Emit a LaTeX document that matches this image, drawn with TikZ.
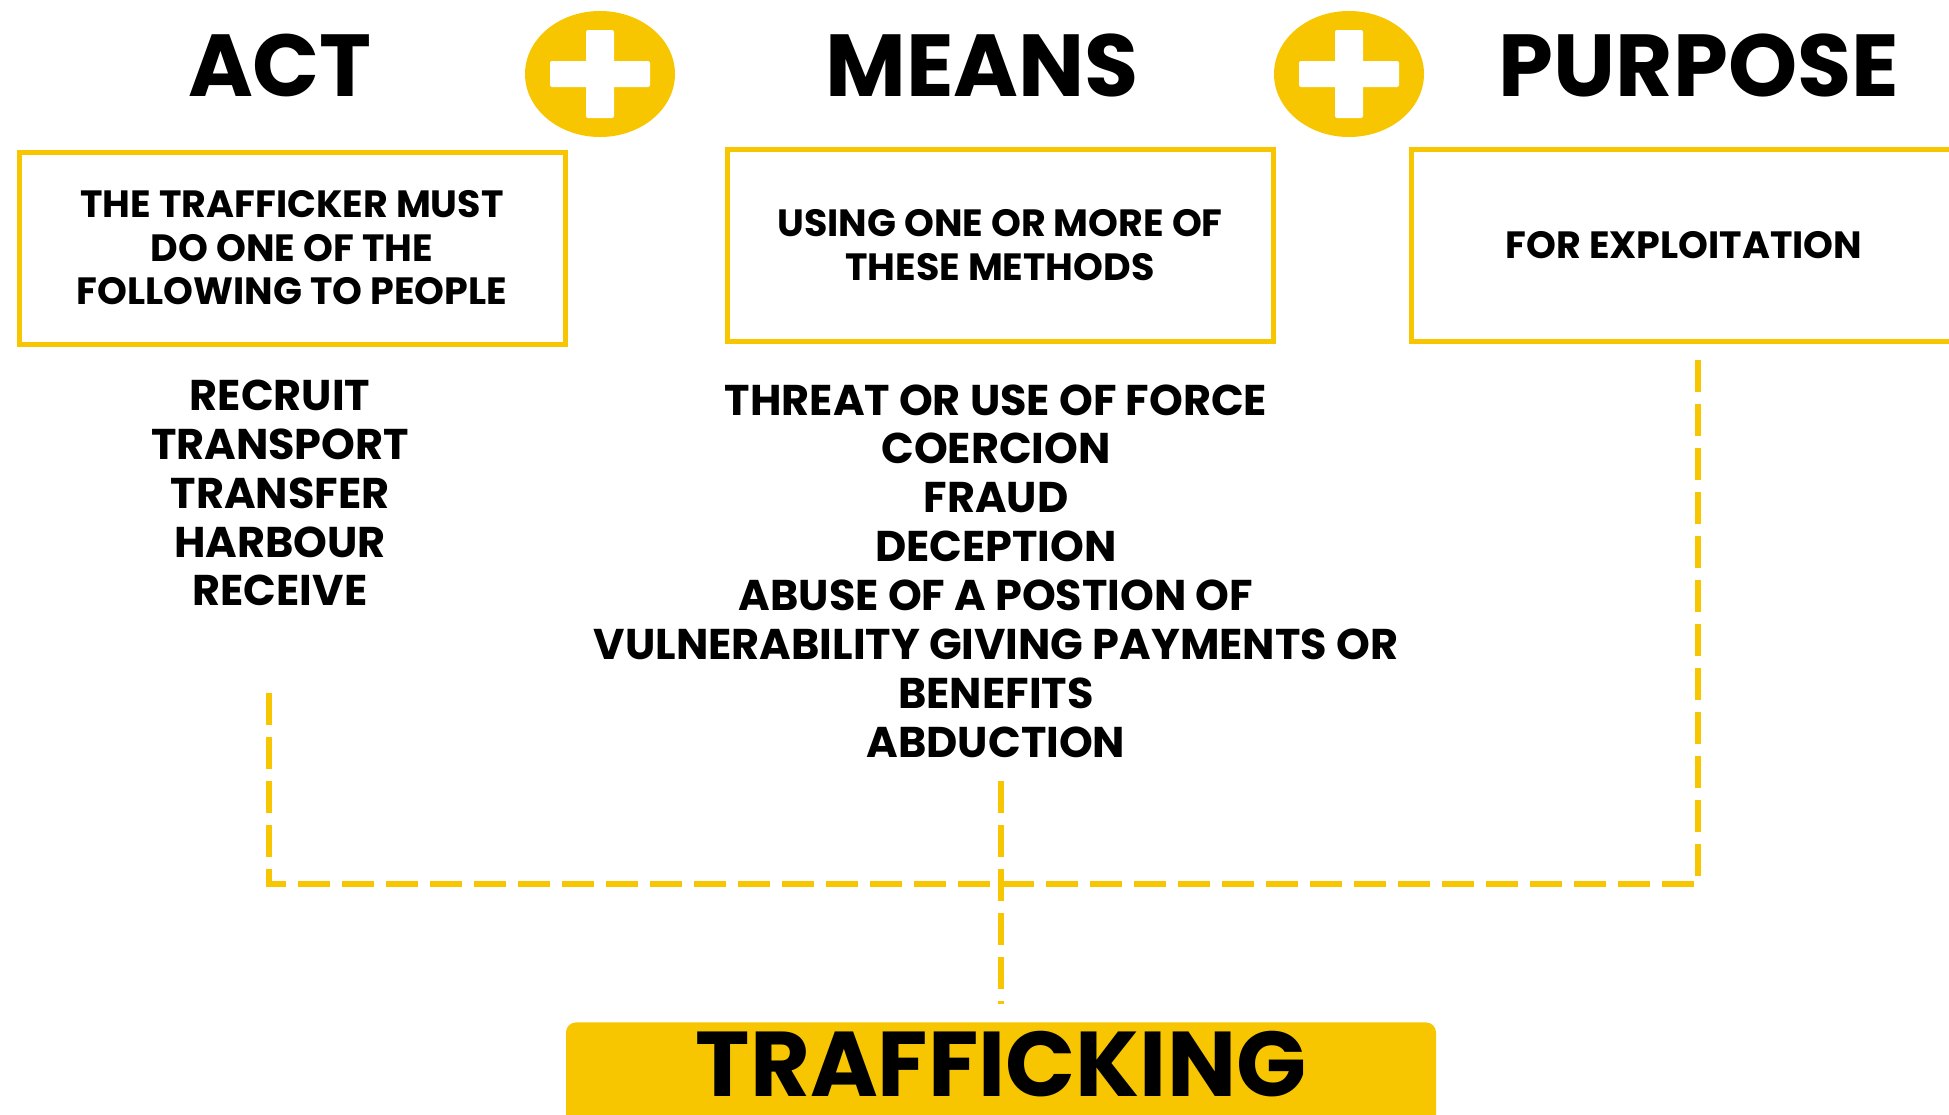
\documentclass[tikz,border=0pt]{standalone}
\usepackage{xcolor}
\usepackage{fontspec}
\setmainfont{Poppins}
\usepackage{tikz}
\definecolor{gold}{RGB}{247,198,0}

\begin{document}
\begin{tikzpicture}[x=0.5pt,y=-0.5pt,
    heading/.style={font=\fontsize{44}{44}\selectfont\bfseries, inner sep=0pt},
    infobox/.style={draw=gold, line width=2.5pt, minimum width=273pt, minimum height=96pt,
      align=center, inner sep=0pt, font=\fontsize{19}{21.75}\selectfont\bfseries},
    listing/.style={align=center, inner sep=0pt, font=\fontsize{21.5}{24.45}\selectfont\bfseries},
    trafbox/.style={fill=gold, anchor=north, rounded corners=5pt, minimum width=435pt,
      inner sep=0pt, text height=37pt, text depth=14pt, font=\fontsize{46}{46}\selectfont\bfseries},
    dashline/.style={draw=gold, line width=2.8pt, dash pattern=on 16pt off 6pt}]
    \useasboundingbox (0,0) rectangle (1949,1114);
    \clip (0,0) rectangle (1949,1114);
    % Headings
    \node[heading] (act) at (280,65) {ACT};
    \node[heading] (means) at (982,65) {MEANS};
    \node[heading] (purpose) at (1699,65) {PURPOSE};
    % Plus signs
    \foreach \cx in {600,1349} {
      \fill[gold] (\cx,74) ellipse [x radius=75, y radius=63];
      \fill[white, rounded corners=1pt] (\cx-50,61) rectangle (\cx+50,87);
      \fill[white, rounded corners=1pt] (\cx-14,30) rectangle (\cx+14,118);
    }
    % Boxes
    \node[infobox] (actbox) at (292,248) {THE TRAFFICKER MUST\\DO ONE OF THE\\FOLLOWING TO PEOPLE};
    \node[infobox] (meansbox) at (1000,245) {USING ONE OR MORE OF\\THESE METHODS};
    \node[infobox] (purposebox) at (1684,245) {FOR EXPLOITATION};
    % Lists
    \node[listing] (actlist) at (280,493) {RECRUIT\\TRANSPORT\\TRANSFER\\HARBOUR\\RECEIVE};
    \node[listing] (meanslist) at (996,571) {THREAT OR USE OF FORCE\\COERCION\\FRAUD\\DECEPTION\\ABUSE OF A POSTION OF\\VULNERABILITY GIVING PAYMENTS OR\\BENEFITS\\ABDUCTION};
    % Result
    \node[trafbox] (traf) at (1001,1022) {TRAFFICKING};
    % Dashed connectors
    \coordinate (join) at (1001,884);
    \draw[dashline, shorten <=43pt, shorten >=6pt] ([xshift=-5.5pt]actlist.south) |- (join) -| ([xshift=7pt]purposebox.south);
    \draw[dashline, shorten <=11.5pt, shorten >=9pt] (meanslist.south -| traf.north) -- (traf.north);
\end{tikzpicture}
\end{document}
